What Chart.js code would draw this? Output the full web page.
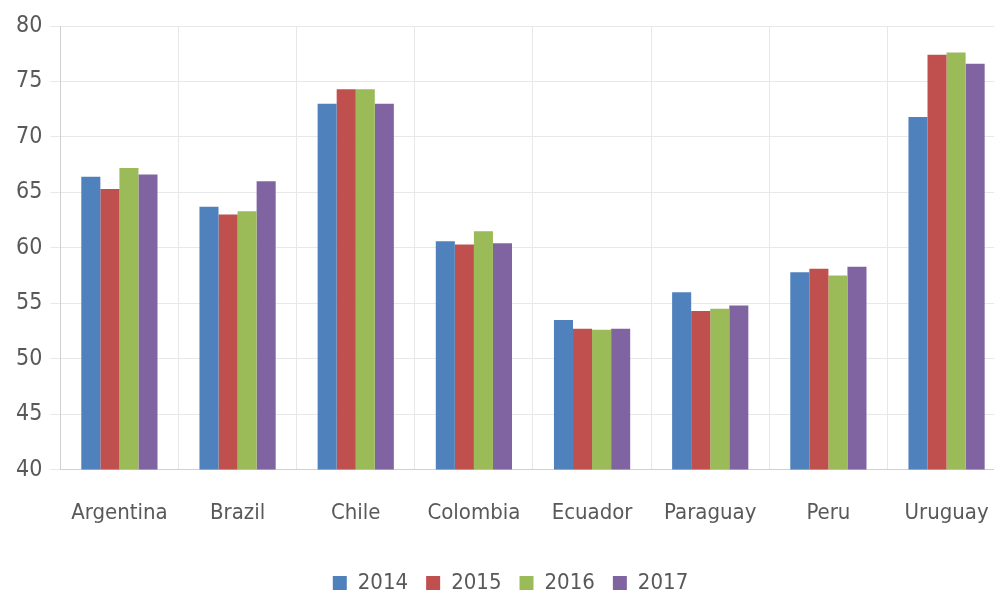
<!DOCTYPE html>
<html>
<head>
<meta charset="utf-8">
<script src="https://cdn.jsdelivr.net/npm/chart.js@4/dist/chart.umd.min.js"></script>
<style>
html,body{margin:0;padding:0;background:#fff;overflow:hidden;}
#wrap{position:absolute;left:0;top:0;width:1019px;height:595px;}
</style>
</head>
<body>
<div id="wrap"><canvas id="c"></canvas></div>
<script>
const categories = ["Argentina","Brazil","Chile","Colombia","Ecuador","Paraguay","Peru","Uruguay"];
const seriesNames = ["2014","2015","2016","2017"];
const values2014 = [66.4, 63.7, 73.0, 60.6, 53.5, 56.0, 57.8, 71.8];
const values2015 = [65.3, 63.0, 74.3, 60.3, 52.7, 54.3, 58.1, 77.4];
const values2016 = [67.2, 63.3, 74.3, 61.5, 52.6, 54.5, 57.5, 77.6];
const values2017 = [66.6, 66.0, 73.0, 60.4, 52.7, 54.8, 58.3, 76.6];
const colors = ["#4F81BD","#C0504D","#9BBB59","#8064A2"];
const allValues = [values2014, values2015, values2016, values2017];

const FONT = "'DejaVu Sans Condensed','Liberation Sans Narrow',sans-serif";
const TXT = "#595959";

new Chart(document.getElementById('c'), {
  type: 'bar',
  data: {
    labels: categories,
    datasets: seriesNames.map((n,i)=>({
      label: n,
      data: allValues[i],
      backgroundColor: colors[i],
      borderWidth: 0,
      barPercentage: 1.0,
      categoryPercentage: 0.645
    }))
  },
  options: {
    responsive: true,
    maintainAspectRatio: false,
    animation: false,
    layout: { padding: { left: 8, right: 6, top: 26, bottom: -9 } },
    plugins: {
      tooltip: { enabled: false },
      legend: {
        position: 'bottom',
        labels: {
          boxWidth: 14, boxHeight: 14,
          padding: 18,
          color: TXT,
          font: { family: FONT, size: 22 }
        }
      }
    },
    scales: {
      x: {
        grid: { color: '#e8e8e8', lineWidth: 1, drawTicks: false, offset: true },
        border: { color: '#d0d0d0' },
        ticks: { color: TXT, font: { family: FONT, size: 22 }, padding: 30, maxRotation: 0, minRotation: 0, autoSkip: false },
        afterFit: (s) => { s.height -= 2; }
      },
      y: {
        min: 40, max: 80,
        grid: { color: '#e8e8e8', lineWidth: 1, tickLength: 10, tickColor: '#e8e8e8' },
        border: { color: '#d0d0d0' },
        ticks: { stepSize: 5, color: TXT, font: { family: FONT, size: 23 }, padding: 8 }
      }
    }
  }
});
</script>
</body>
</html>
